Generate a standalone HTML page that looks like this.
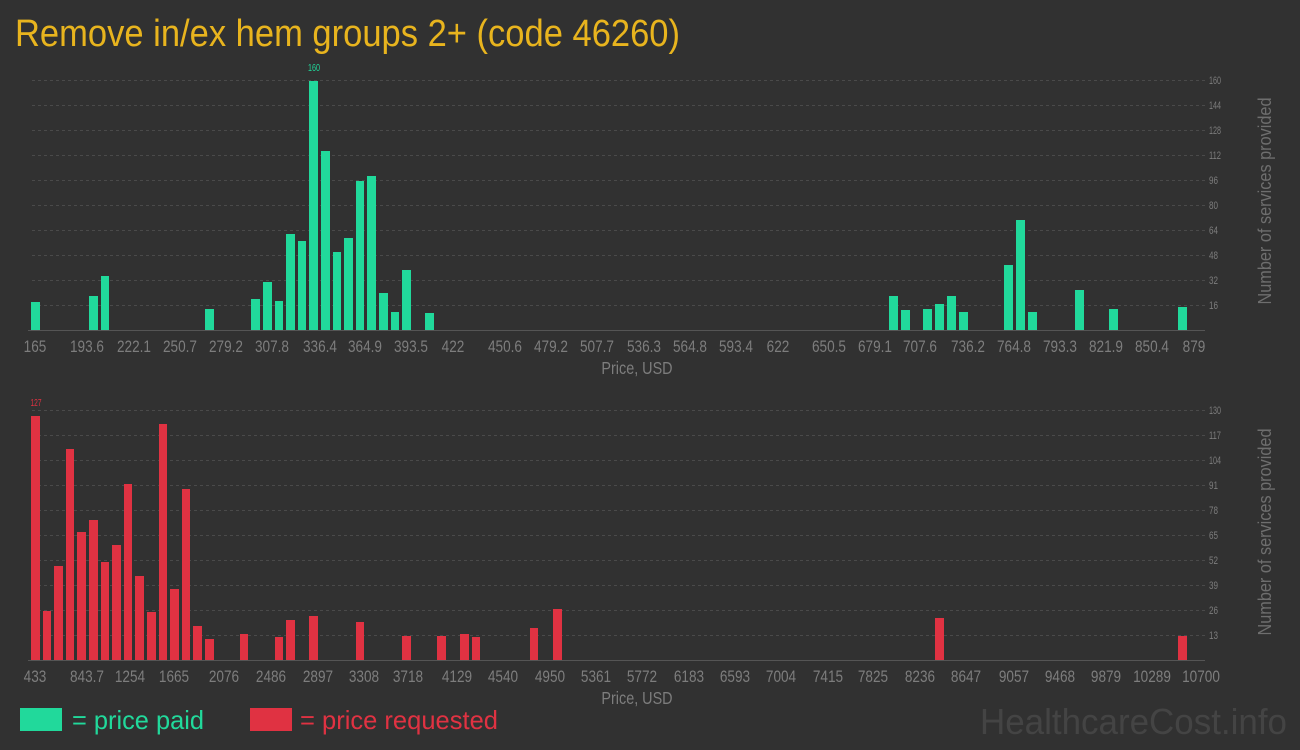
<!DOCTYPE html>
<html><head><meta charset="utf-8"><style>
html,body{margin:0;padding:0;background:#313131;}
svg{display:block;font-family:"Liberation Sans",sans-serif;}
</style></head><body>
<svg width="1300" height="750" viewBox="0 0 1300 750" xmlns="http://www.w3.org/2000/svg">
<rect width="1300" height="750" fill="#313131"/>
<text x="15" y="46" font-size="38" fill="#e8b41e" textLength="665" lengthAdjust="spacingAndGlyphs">Remove in/ex hem groups 2+ (code 46260)</text>

<g stroke="#4a4a4a" stroke-dasharray="3,3" stroke-width="1">
<line x1="32" x2="1205" y1="80.5" y2="80.5"/><line x1="32" x2="1205" y1="105.5" y2="105.5"/><line x1="32" x2="1205" y1="130.5" y2="130.5"/><line x1="32" x2="1205" y1="155.5" y2="155.5"/><line x1="32" x2="1205" y1="180.5" y2="180.5"/><line x1="32" x2="1205" y1="205.5" y2="205.5"/><line x1="32" x2="1205" y1="230.5" y2="230.5"/><line x1="32" x2="1205" y1="255.5" y2="255.5"/><line x1="32" x2="1205" y1="280.5" y2="280.5"/><line x1="32" x2="1205" y1="305.5" y2="305.5"/>
</g>
<line x1="28" x2="1205" y1="330.5" y2="330.5" stroke="#555"/>
<g fill="#7d7d7d" font-size="11">
<text x="1209" y="84" textLength="12" lengthAdjust="spacingAndGlyphs">160</text><text x="1209" y="109" textLength="12" lengthAdjust="spacingAndGlyphs">144</text><text x="1209" y="134" textLength="12" lengthAdjust="spacingAndGlyphs">128</text><text x="1209" y="159" textLength="12" lengthAdjust="spacingAndGlyphs">112</text><text x="1209" y="184" textLength="9" lengthAdjust="spacingAndGlyphs">96</text><text x="1209" y="209" textLength="9" lengthAdjust="spacingAndGlyphs">80</text><text x="1209" y="234" textLength="9" lengthAdjust="spacingAndGlyphs">64</text><text x="1209" y="259" textLength="9" lengthAdjust="spacingAndGlyphs">48</text><text x="1209" y="284" textLength="9" lengthAdjust="spacingAndGlyphs">32</text><text x="1209" y="309" textLength="9" lengthAdjust="spacingAndGlyphs">16</text>
</g>
<text transform="translate(1271,201) rotate(-90)" text-anchor="middle" font-size="18" fill="#6e6e6e" textLength="207" lengthAdjust="spacingAndGlyphs">Number of services provided</text>
<g fill="#21d99b">
<rect x="31" y="302" width="9" height="28"/><rect x="89" y="296" width="9" height="34"/><rect x="101" y="276" width="8" height="54"/><rect x="205" y="309" width="9" height="21"/><rect x="251" y="299" width="9" height="31"/><rect x="263" y="282" width="9" height="48"/><rect x="275" y="301" width="8" height="29"/><rect x="286" y="234" width="9" height="96"/><rect x="298" y="241" width="8" height="89"/><rect x="309" y="81" width="9" height="249"/><rect x="321" y="151" width="9" height="179"/><rect x="333" y="252" width="8" height="78"/><rect x="344" y="238" width="9" height="92"/><rect x="356" y="181" width="8" height="149"/><rect x="367" y="176" width="9" height="154"/><rect x="379" y="293" width="9" height="37"/><rect x="391" y="312" width="8" height="18"/><rect x="402" y="270" width="9" height="60"/><rect x="425" y="313" width="9" height="17"/>
<rect x="889" y="296" width="9" height="34"/><rect x="901" y="310" width="9" height="20"/><rect x="923" y="309" width="9" height="21"/><rect x="935" y="304" width="9" height="26"/><rect x="947" y="296" width="9" height="34"/><rect x="959" y="312" width="9" height="18"/><rect x="1004" y="265" width="9" height="65"/><rect x="1016" y="220" width="9" height="110"/><rect x="1028" y="312" width="9" height="18"/><rect x="1075" y="290" width="9" height="40"/><rect x="1109" y="309" width="9" height="21"/><rect x="1178" y="307" width="9" height="23"/>
</g>
<text x="314" y="71" font-size="10" fill="#21d99b" text-anchor="middle" textLength="12" lengthAdjust="spacingAndGlyphs">160</text>
<g fill="#7d7d7d" font-size="17" text-anchor="middle" transform="scale(0.8,1)">
<text x="43.75" y="352">165</text><text x="108.75" y="352">193.6</text><text x="167.5" y="352">222.1</text><text x="225" y="352">250.7</text><text x="282.5" y="352">279.2</text><text x="340" y="352">307.8</text><text x="400" y="352">336.4</text><text x="456.25" y="352">364.9</text><text x="513.75" y="352">393.5</text><text x="566.25" y="352">422</text><text x="631.25" y="352">450.6</text><text x="688.75" y="352">479.2</text><text x="746.25" y="352">507.7</text><text x="805" y="352">536.3</text><text x="862.5" y="352">564.8</text><text x="920" y="352">593.4</text><text x="972.5" y="352">622</text><text x="1036.25" y="352">650.5</text><text x="1093.75" y="352">679.1</text><text x="1150" y="352">707.6</text><text x="1210" y="352">736.2</text><text x="1267.5" y="352">764.8</text><text x="1325" y="352">793.3</text><text x="1382.5" y="352">821.9</text><text x="1440" y="352">850.4</text><text x="1492.5" y="352">879</text>
<text x="796.25" y="374" font-size="18">Price, USD</text>
</g>

<g stroke="#4a4a4a" stroke-dasharray="3,3" stroke-width="1">
<line x1="32" x2="1205" y1="410.5" y2="410.5"/><line x1="32" x2="1205" y1="435.5" y2="435.5"/><line x1="32" x2="1205" y1="460.5" y2="460.5"/><line x1="32" x2="1205" y1="485.5" y2="485.5"/><line x1="32" x2="1205" y1="510.5" y2="510.5"/><line x1="32" x2="1205" y1="535.5" y2="535.5"/><line x1="32" x2="1205" y1="560.5" y2="560.5"/><line x1="32" x2="1205" y1="585.5" y2="585.5"/><line x1="32" x2="1205" y1="610.5" y2="610.5"/><line x1="32" x2="1205" y1="635.5" y2="635.5"/>
</g>
<line x1="28" x2="1205" y1="660.5" y2="660.5" stroke="#555"/>
<g fill="#7d7d7d" font-size="11">
<text x="1209" y="414" textLength="12" lengthAdjust="spacingAndGlyphs">130</text><text x="1209" y="439" textLength="12" lengthAdjust="spacingAndGlyphs">117</text><text x="1209" y="464" textLength="12" lengthAdjust="spacingAndGlyphs">104</text><text x="1209" y="489" textLength="9" lengthAdjust="spacingAndGlyphs">91</text><text x="1209" y="514" textLength="9" lengthAdjust="spacingAndGlyphs">78</text><text x="1209" y="539" textLength="9" lengthAdjust="spacingAndGlyphs">65</text><text x="1209" y="564" textLength="9" lengthAdjust="spacingAndGlyphs">52</text><text x="1209" y="589" textLength="9" lengthAdjust="spacingAndGlyphs">39</text><text x="1209" y="614" textLength="9" lengthAdjust="spacingAndGlyphs">26</text><text x="1209" y="639" textLength="9" lengthAdjust="spacingAndGlyphs">13</text>
</g>
<text transform="translate(1271,532) rotate(-90)" text-anchor="middle" font-size="18" fill="#6e6e6e" textLength="207" lengthAdjust="spacingAndGlyphs">Number of services provided</text>
<g fill="#e03242">
<rect x="31" y="416" width="9" height="244"/><rect x="43" y="611" width="8" height="49"/><rect x="54" y="566" width="9" height="94"/><rect x="66" y="449" width="8" height="211"/><rect x="77" y="532" width="9" height="128"/><rect x="89" y="520" width="9" height="140"/><rect x="101" y="562" width="8" height="98"/><rect x="112" y="545" width="9" height="115"/><rect x="124" y="484" width="8" height="176"/><rect x="135" y="576" width="9" height="84"/><rect x="147" y="612" width="9" height="48"/><rect x="159" y="424" width="8" height="236"/><rect x="170" y="589" width="9" height="71"/><rect x="182" y="489" width="8" height="171"/><rect x="193" y="626" width="9" height="34"/><rect x="205" y="639" width="9" height="21"/><rect x="240" y="634" width="8" height="26"/><rect x="275" y="637" width="8" height="23"/><rect x="286" y="620" width="9" height="40"/><rect x="309" y="616" width="9" height="44"/><rect x="356" y="622" width="8" height="38"/><rect x="402" y="636" width="9" height="24"/><rect x="437" y="636" width="9" height="24"/><rect x="460" y="634" width="9" height="26"/><rect x="472" y="637" width="8" height="23"/><rect x="530" y="628" width="8" height="32"/><rect x="553" y="609" width="9" height="51"/><rect x="935" y="618" width="9" height="42"/><rect x="1178" y="636" width="9" height="24"/>
</g>
<text x="36" y="406" font-size="10" fill="#e03242" text-anchor="middle" textLength="11" lengthAdjust="spacingAndGlyphs">127</text>
<g fill="#7d7d7d" font-size="17" text-anchor="middle" transform="scale(0.8,1)">
<text x="43.75" y="682">433</text><text x="108.75" y="682">843.7</text><text x="162.5" y="682">1254</text><text x="217.5" y="682">1665</text><text x="280" y="682">2076</text><text x="338.75" y="682">2486</text><text x="397.5" y="682">2897</text><text x="455" y="682">3308</text><text x="510" y="682">3718</text><text x="571.25" y="682">4129</text><text x="628.75" y="682">4540</text><text x="687.5" y="682">4950</text><text x="745" y="682">5361</text><text x="802.5" y="682">5772</text><text x="861.25" y="682">6183</text><text x="918.75" y="682">6593</text><text x="976.25" y="682">7004</text><text x="1035" y="682">7415</text><text x="1091.25" y="682">7825</text><text x="1150" y="682">8236</text><text x="1207.5" y="682">8647</text><text x="1267.5" y="682">9057</text><text x="1325" y="682">9468</text><text x="1382.5" y="682">9879</text><text x="1440" y="682">10289</text><text x="1501.25" y="682">10700</text>
<text x="796.25" y="704" font-size="18">Price, USD</text>
</g>

<rect x="20" y="708" width="42" height="23" fill="#21d99b"/>
<text x="72" y="729" font-size="26" fill="#21d99b" textLength="132" lengthAdjust="spacingAndGlyphs">= price paid</text>
<rect x="250" y="708" width="42" height="23" fill="#e03242"/>
<text x="300" y="729" font-size="26" fill="#e03242" textLength="198" lengthAdjust="spacingAndGlyphs">= price requested</text>
<text x="980" y="734" font-size="36" fill="#444" textLength="307" lengthAdjust="spacingAndGlyphs">HealthcareCost.info</text>
</svg>
</body></html>
